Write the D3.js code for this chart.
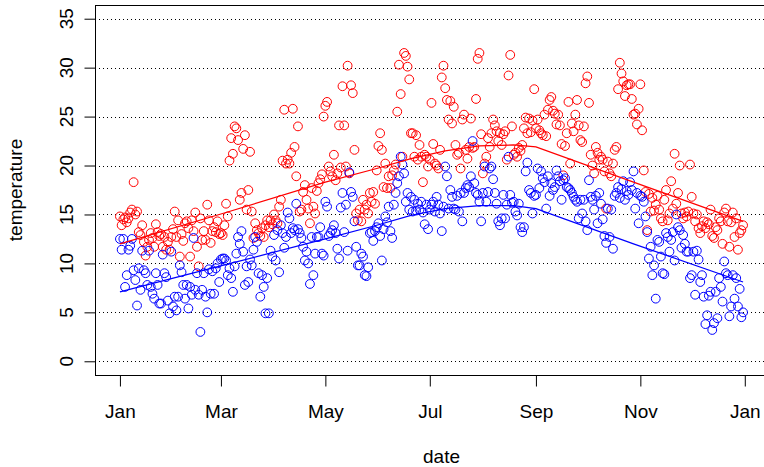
<!DOCTYPE html>
<html>
<head>
<meta charset="utf-8">
<script src="https://cdn.jsdelivr.net/npm/d3@7/dist/d3.min.js"></script>
<style>
body { margin: 0; background: #fff; }
svg { display: block; }
</style>
</head>
<body>
<svg width="764" height="467"></svg>
<script>
// daily maximum (red) and minimum (blue) temperature, one value per day of the year
var tmax = [
  14.8, 13.9, 14.5, 14.7, 14.2, 14.6, 15.2, 15.5, 18.3, 15.0,
  15.3, 13.2, 12.9, 13.9, 12.2, 10.8, 11.7, 12.4, 13.1, 12.6,
  11.7, 14.0, 13.2, 12.8, 13.0, 11.7, 12.7, 11.4, 12.2, 11.4,
  12.7, 13.5, 15.3, 12.7, 14.4, 10.7, 13.0, 12.3, 14.1,
  14.3, 13.6, 10.7, 14.4, 13.3, 15.2, 11.7, 9.7, 14.6, 12.4,
  13.3, 12.4, 16.0, 14.4, 12.1, 13.3, 13.7, 13.2, 14.3, 13.0,
  13.1, 12.9, 13.9, 16.1, 14.8, 20.5, 22.8, 21.2, 24.0, 23.8,
  22.6, 16.5, 17.2, 21.7, 23.1, 15.5, 17.5, 21.4, 15.3, 12.6,
  14.1, 13.4, 13.1, 12.8, 13.6, 12.7, 13.9, 14.4, 13.7,
  14.4, 14.0, 15.0, 14.4, 14.1, 15.8, 16.5, 20.5, 25.7, 20.2,
  20.6, 20.2, 21.3, 25.8, 21.9, 18.9, 24.0, 15.3, 15.5, 17.3,
  18.0, 16.5, 15.6, 14.1, 17.7, 15.8, 15.1, 17.4, 18.2, 18.6,
  19.1, 25.0, 26.1, 26.5, 19.9, 19.4, 18.9, 21.1, 18.5, 19.2,
  24.1, 19.8, 28.1,
  24.1, 19.9, 30.2, 19.2, 28.2, 27.4, 21.6, 15.1, 14.4, 15.5,
  14.3, 16.5, 15.5, 16.0, 15.1, 17.2, 16.3, 17.3, 16.1, 19.5,
  22.0, 23.3, 21.6, 17.8, 20.2, 17.7, 18.9, 17.7, 19.0, 19.5,
  20.1, 25.5, 30.3, 27.3, 20.9, 31.5, 31.2, 30.1, 28.8, 23.3,
  23.3, 20.9, 23.1, 20.6, 22.1, 20.9, 18.3, 21.1, 20.9, 19.9,
  20.6, 26.4, 22.2, 20.2, 20.0, 19.7, 21.6, 29.0, 30.2, 27.9,
  26.7, 24.7, 26.6, 24.3, 26.0, 22.1, 21.1, 21.3, 19.7, 24.7,
  25.2, 21.6, 20.7, 21.9, 24.8, 21.8, 21.9, 26.8, 30.9, 31.5,
  23.2, 19.2, 20.2, 20.9, 22.8, 21.9, 23.3, 24.7, 24.1, 23.5,
  22.5, 23.3, 22.1, 23.2, 23.5, 20.6, 29.2,
  31.3, 24.0, 21.1, 21.3, 20.9, 21.8, 21.5, 22.1, 23.8, 24.9,
  23.3, 24.8, 23.4, 24.6, 27.8, 23.8, 24.7, 23.6, 23.3, 23.1,
  25.2, 23.0, 25.7, 26.7, 27.0, 25.6, 25.3, 24.2, 25.2, 24.1,
  22.2, 19.0, 22.0, 23.3, 26.5, 20.2, 24.3, 23.5, 25.2, 26.7,
  24.1, 22.6, 22.4, 24.0, 28.4, 29.1, 26.4,
  21.1, 20.0, 19.2, 21.9, 21.3, 20.6, 20.9, 20.6, 19.4, 15.6,
  20.4, 19.2, 18.9, 20.2, 21.6, 21.9, 27.8, 30.5, 29.4, 28.6,
  27.1, 28.2, 28.3, 28.3, 26.8, 25.2, 25.3, 24.2, 25.8, 28.3,
  23.6, 19.5, 17.3, 13.4, 17.1, 15.3, 16.7, 15.4, 16.0, 16.9,
  15.5, 14.6, 14.3, 16.5, 17.5, 14.4, 15.1,
  18.4, 15.6, 21.2, 16.1, 17.2, 20.0, 15.1, 14.6, 15.2, 14.8,
  15.3, 20.1, 16.8, 15.1, 14.3, 15.0, 13.6, 13.1, 13.8, 14.3,
  13.6, 14.2, 14.0, 15.5, 12.8, 12.6, 13.7, 13.4, 14.6, 14.3,
  12.0, 15.2, 15.6, 14.3, 11.7, 14.2, 15.2, 12.7, 14.6, 11.4, 13.1, 13.4, 13.9
];

var tmin = [
  12.5, 11.4, 12.5, 7.6, 8.8, 11.4, 11.8, 12.5, 9.3, 8.3,
  5.7, 9.5, 7.3, 11.3, 9.3, 9.0, 7.8, 11.3, 7.6, 6.9,
  6.4, 9.0, 7.8, 5.9, 5.9, 10.9, 9.0, 8.6, 6.2, 4.9,
  11.2, 5.6, 6.6, 5.2, 6.6, 9.8, 9.1, 7.8, 6.4,
  7.8, 5.4, 7.6, 6.8, 12.6, 7.3, 9.0, 6.8, 3.0, 7.3,
  9.0, 6.6, 5.0, 9.4, 6.9, 9.2, 6.9, 9.5, 10.0, 8.1,
  10.4, 10.5, 10.5, 10.3, 8.8, 9.5, 8.5, 7.1, 9.7, 11.0,
  12.7, 12.0, 13.3, 11.2, 7.8, 9.7, 8.1, 10.4, 9.8, 11.4,
  12.7, 12.2, 9.0, 6.6, 8.8, 7.6, 4.9, 8.5, 4.9,
  11.3, 10.7, 12.9, 10.3, 13.4, 9.1, 13.9, 13.1, 11.6, 12.7,
  15.2, 14.6, 13.1, 13.6, 13.4, 16.1, 13.5, 13.1, 12.6, 11.7,
  10.3, 11.2, 10.0, 7.9, 12.7, 8.8, 11.0, 12.7, 12.7, 13.7,
  11.0, 10.8, 16.3, 15.8, 12.8, 13.1, 13.4, 13.9, 13.1, 11.5,
  10.5, 15.7, 17.2,
  13.2, 16.0, 11.3, 19.3, 17.3, 16.8, 14.3, 11.7, 9.8, 9.8,
  11.0, 10.7, 8.8, 8.7, 9.6, 13.1, 13.2, 12.3, 13.3, 13.7,
  14.1, 12.8, 10.3, 13.5, 14.8, 14.2, 15.8, 13.3, 12.6, 16.0,
  17.2, 18.2, 18.9, 20.9, 20.1, 19.2, 16.3, 17.2, 15.5, 16.8,
  15.3, 16.5, 15.4, 16.1, 15.5, 16.3, 15.2, 14.0, 16.0, 13.5,
  15.5, 16.0, 16.3, 15.3, 16.8, 16.0, 15.1, 13.3, 15.8, 19.9,
  18.9, 15.6, 17.5, 16.8, 15.6, 15.5, 16.9, 15.3, 17.2, 14.3,
  17.2, 17.7, 18.0, 17.8, 18.9, 22.5, 18.2, 17.2, 17.0, 16.3,
  14.3, 17.2, 19.9, 16.3, 17.3, 19.7, 19.9, 18.6, 17.2, 16.1,
  14.3, 13.9, 14.6, 17.0, 14.6, 16.0, 20.9,
  17.0, 16.2, 16.3, 15.3, 14.9, 16.1, 13.7, 13.2, 13.7, 19.4,
  20.3, 17.5, 17.2, 15.1, 16.9, 17.0, 19.7, 17.7, 19.4, 18.7,
  18.3, 15.6, 18.9, 16.9, 18.2, 17.5, 17.8, 19.5, 18.9, 18.4,
  16.5, 18.5, 18.7, 17.8, 17.7, 17.5, 17.2, 16.8, 16.5, 16.3,
  14.6, 16.5, 15.1, 16.5, 14.3, 13.4, 18.5,
  16.8, 16.5, 15.5, 16.9, 14.1, 17.2, 16.1, 14.5, 12.8, 12.1,
  15.6, 12.7, 15.5, 11.5, 16.9, 17.2, 17.8, 16.7, 17.6, 18.4,
  16.5, 17.4, 17.0, 18.3, 17.5, 19.4, 15.6, 17.2, 14.1, 16.9,
  16.8, 16.3, 14.8, 13.2, 10.5, 11.7, 8.8, 9.8, 6.4, 12.4,
  12.2, 10.7, 9.0, 8.9, 13.1, 12.7, 11.2,
  12.4, 13.2, 10.3, 15.0, 13.7, 13.4, 11.6, 12.9, 12.0, 11.2,
  11.2, 8.5, 8.8, 11.2, 6.8, 11.3, 10.4, 8.1, 8.8, 6.6,
  3.8, 4.7, 6.7, 7.1, 3.2, 3.9, 7.1, 4.4, 8.5, 7.6,
  6.1, 10.2, 9.0, 8.8, 4.6, 5.6, 8.8, 6.4, 8.5, 5.6, 7.4, 4.5, 5.0
];

var fitDays = [0, 60, 120, 150, 170, 190, 210, 230, 243, 300, 364];
var fitMax  = [12.0, 15.1, 18.3, 19.7, 20.7, 21.5, 22.0, 22.1, 21.9, 18.3, 14.3];
var fitMin  = [7.1, 9.8, 12.5, 13.9, 14.9, 15.6, 15.9, 15.9, 15.6, 12.0, 8.1];

var yTicks = [0, 5, 10, 15, 20, 25, 30, 35];

var svg = d3.select("svg"),
    width = +svg.attr("width"),
    height = +svg.attr("height");

var font = "'Liberation Sans', Arial, Helvetica, sans-serif";
var start = new Date(2015, 0, 1);
function dayDate(i) { return new Date(start.getTime() + i * 864e5); }

// plot box edges
var boxL = 95, boxR = 768, boxT = 5, boxB = 375;

var x = d3.scaleTime()
    .domain([dayDate(-14.56), dayDate(378.56)])
    .range([boxL, boxR]);
var y = d3.scaleLinear()
    .domain([-1.4, 36.4])
    .range([boxB, boxT]);

// dotted horizontal reference lines
svg.append("g").selectAll("line")
  .data(yTicks)
  .enter().append("line")
    .attr("x1", boxL).attr("x2", width)
    .attr("y1", function(d) { return Math.round(y(d)) + 0.5; })
    .attr("y2", function(d) { return Math.round(y(d)) + 0.5; })
    .attr("stroke", "#000")
    .attr("stroke-dasharray", "1,3");

// points
function dots(vals, col) {
  svg.append("g").selectAll("circle")
    .data(vals)
    .enter().append("circle")
      .attr("cx", function(d, i) { return x(dayDate(i)); })
      .attr("cy", function(d) { return y(d); })
      .attr("r", 4.4)
      .attr("fill", "none")
      .attr("stroke", col)
      .attr("stroke-width", 1);
}
dots(tmax, "#ff0000");
dots(tmin, "#0000ff");

// fitted lines
function fitLine(vals, col) {
  var line = d3.line()
      .x(function(d, i) { return x(dayDate(fitDays[i])); })
      .y(function(d) { return y(d); });
  svg.append("path")
    .attr("d", line(vals))
    .attr("fill", "none")
    .attr("stroke", col)
    .attr("stroke-width", 1.2);
}
fitLine(fitMax, "#ff0000");
fitLine(fitMin, "#0000ff");

// box
svg.append("rect")
    .attr("x", boxL + 0.5).attr("y", boxT + 0.5)
    .attr("width", boxR - boxL).attr("height", boxB - boxT)
    .attr("fill", "none")
    .attr("stroke", "#000");

// x axis
var monthTicks = d3.timeMonth.every(2).range(dayDate(0), dayDate(366));
var xAxis = svg.append("g")
    .attr("transform", "translate(0," + (boxB + 0.5) + ")")
    .call(d3.axisBottom(x)
      .tickValues(monthTicks)
      .tickSize(11)
      .tickPadding(18)
      .tickFormat(d3.timeFormat("%b")));
xAxis.select(".domain").remove();
xAxis.selectAll("text").attr("font-size", 19).attr("font-family", font).attr("fill", "#000");

// y axis
var yAxis = svg.append("g")
    .attr("transform", "translate(" + (boxL + 0.5) + ",0)")
    .call(d3.axisLeft(y).tickValues(yTicks).tickSize(11).tickFormat(""));
yAxis.select(".domain").remove();

svg.append("g").selectAll("text")
  .data(yTicks)
  .enter().append("text")
    .attr("transform", function(d) { return "translate(73," + y(d) + ") rotate(-90)"; })
    .attr("text-anchor", "middle")
    .attr("font-size", 19)
    .attr("font-family", font)
    .text(function(d) { return d; });

// axis titles
svg.append("text")
    .attr("x", (boxL + 764) / 2 + 12)
    .attr("y", 463)
    .attr("text-anchor", "middle")
    .attr("font-size", 19)
    .attr("font-family", font)
    .text("date");

svg.append("text")
    .attr("transform", "translate(22," + (boxB + boxT) / 2 + ") rotate(-90)")
    .attr("text-anchor", "middle")
    .attr("font-size", 19)
    .attr("font-family", font)
    .text("temperature");
</script>
</body>
</html>
